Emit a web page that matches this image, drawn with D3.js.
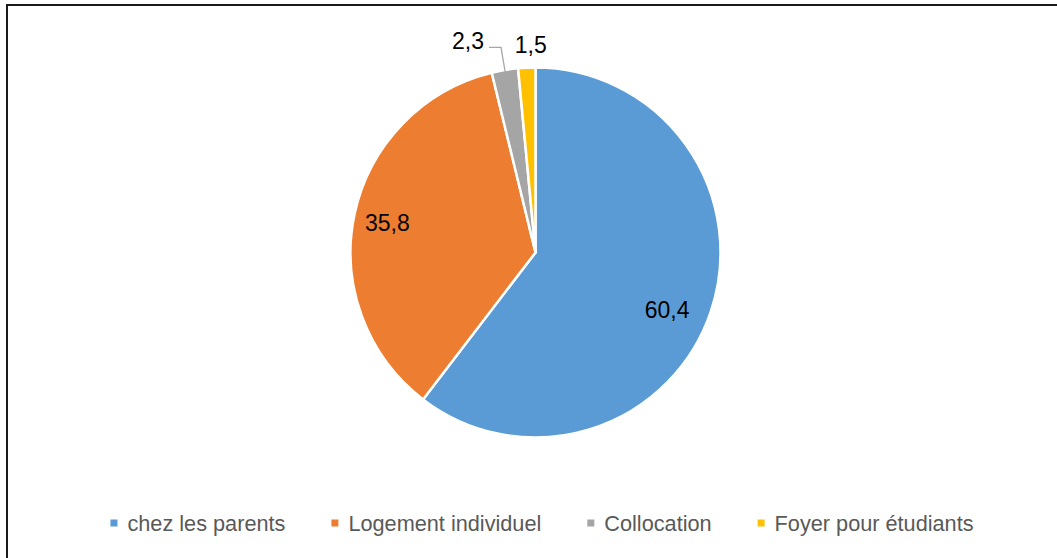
<!DOCTYPE html>
<html>
<head>
<meta charset="utf-8">
<script src="https://cdn.jsdelivr.net/npm/d3@7"></script>
<style>
  html, body { margin: 0; padding: 0; background: #fff; overflow: hidden; }
  svg { display: block; font-family: "Liberation Sans", Arial, sans-serif; }
</style>
</head>
<body>
<script>
const categories = ['chez les parents', 'Logement individuel', 'Collocation', 'Foyer pour étudiants'];
const values = [60.4, 35.8, 2.3, 1.5];
const valueLabels = ['60,4', '35,8', '2,3', '1,5'];
const colors = ['#5b9bd5', '#ed7d31', '#a5a5a5', '#ffc000'];

const width = 1057;
const height = 558;

const svg = d3.select('body').append('svg')
    .attr('width', width)
    .attr('height', height);

// chart frame (runs off the right/bottom edge in the reference)
svg.append('rect')
    .attr('x', 7).attr('y', 5)
    .attr('width', 1075).attr('height', 580)
    .attr('fill', 'none')
    .attr('stroke', '#1a1a1a')
    .attr('stroke-width', 2);

const cx = 535.5, cy = 252.5, radius = 185;

const pie = d3.pie().sort(null).value(d => d);
const arcs = pie(values);

const arc = d3.arc().innerRadius(0).outerRadius(radius);
const labelArc = d3.arc().innerRadius(radius * 0.78).outerRadius(radius * 0.78);

const g = svg.append('g').attr('transform', `translate(${cx},${cy})`);

g.selectAll('path.slice')
    .data(arcs)
    .enter()
    .append('path')
    .attr('class', 'slice')
    .attr('d', arc)
    .attr('fill', (d, i) => colors[i])
    .attr('stroke', '#fff')
    .attr('stroke-width', 2.5)
    .attr('stroke-linejoin', 'round');

// point on the mid angle at a given radius
function polar(d, r) {
    const a = (d.startAngle + d.endAngle) / 2;
    return [r * Math.sin(a), -r * Math.cos(a)];
}

// inside labels for the two big slices
const insideNudge = [[-5, 11], [-7, 0]];
arcs.slice(0, 2).forEach((d, i) => {
    const [x, y] = labelArc.centroid(d);
    g.append('text')
        .attr('x', x + insideNudge[i][0])
        .attr('y', y + insideNudge[i][1])
        .attr('text-anchor', 'middle')
        .attr('dominant-baseline', 'central')
        .attr('font-size', 23)
        .attr('fill', '#000')
        .text(valueLabels[i]);
});

// outside labels for the two thin slices
{
    const d = arcs[2];
    const p0 = polar(d, radius - 3);
    const p1 = polar(d, radius + 23);
    g.append('path')
        .attr('d', d3.line()([p0, p1, [p1[0] - 12, p1[1]]]))
        .attr('fill', 'none')
        .attr('stroke', '#a6a6a6')
        .attr('stroke-width', 1.3);
    g.append('text')
        .attr('x', p1[0] - 17)
        .attr('y', p1[1] - 6)
        .attr('text-anchor', 'end')
        .attr('dominant-baseline', 'central')
        .attr('font-size', 23)
        .text(valueLabels[2]);
}
{
    const d = arcs[3];
    const p = polar(d, radius + 23);
    g.append('text')
        .attr('x', p[0] + 5)
        .attr('y', p[1])
        .attr('text-anchor', 'middle')
        .attr('dominant-baseline', 'central')
        .attr('font-size', 23)
        .text(valueLabels[3]);
}

// legend
const legend = svg.append('g');
const items = legend.selectAll('g')
    .data(categories)
    .enter()
    .append('g');

items.append('rect')
    .attr('width', 7).attr('height', 7)
    .attr('y', -3.5)
    .attr('fill', (d, i) => colors[i]);

items.append('text')
    .attr('x', 17)
    .attr('dominant-baseline', 'central')
    .attr('font-size', 21.7)
    .attr('fill', '#595959')
    .text(d => d);

const gap = 46;
let xpos = 0;
items.each(function () {
    const w = 17 + this.querySelector('text').getComputedTextLength();
    d3.select(this).attr('transform', `translate(${xpos},0)`);
    xpos += w + gap;
});
const total = xpos - gap;
legend.attr('transform', `translate(${542 - total / 2},523)`);
</script>
</body>
</html>
